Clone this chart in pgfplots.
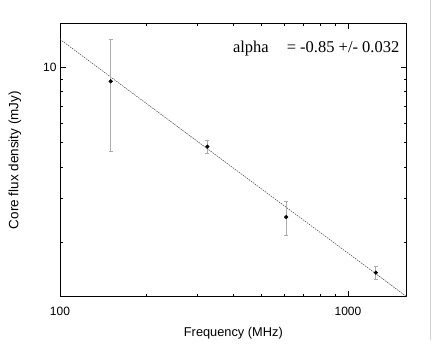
\documentclass[border=0pt]{standalone}
\usepackage{fontspec}
\setmainfont{Liberation Sans}
\newfontfamily\timesfont{Liberation Serif}
\usepackage{pgfplots}
\pgfplotsset{compat=1.18}

% measured fluxes (MHz, mJy, error)
\pgfplotstableread{
nu   S     err
150  8.8   4.2
325  4.82  0.30
610  2.52  0.40
1250 1.51  0.09
}\coreflux

\begin{document}
\begin{tikzpicture}
\useasboundingbox (-60pt,-57.3pt) rectangle (376pt,296.7pt);
\begin{axis}[
    scale only axis,
    width=346.7pt, height=273.3pt,
    xmode=log, ymode=log,
    xmin=100, xmax=1600,
    ymin=1.21, ymax=15,
    xtick={100,1000}, xticklabels={100,1000},
    minor xtick={200,300,400,500,600,700,800,900},
    ytick={10}, yticklabels={10},
    minor ytick={2,3,4,5,6,7,8,9},
    major tick length=6pt, minor tick length=3pt,
    tick style={black, line width=0.5pt},
    axis line style={line width=0.9pt},
    tick label style={font=\fontsize{12}{13}\selectfont},
    x tick label style={yshift=-7pt},
    /pgf/number format/assume math mode=true,
    xlabel={Frequency (MHz)},
    ylabel={Core flux density (mJy)},
    x label style={at={(axis description cs:0.5,-0.134)}, anchor=center, font=\fontsize{12.8}{14}\selectfont},
    y label style={at={(axis description cs:-0.13,0.5)}, anchor=center, font=\fontsize{13.5}{15}\selectfont},
    clip=true,
]
\addplot[black!75, line width=0.5pt, dash pattern=on 1.5pt off 1pt] coordinates {(100,12.95) (1600,1.21)};
\addplot[only marks, mark=*, mark size=1.9pt, black,
    error bars/.cd, y dir=both, y explicit,
    error bar style={gray!65, line width=0.9pt},
    error mark options={gray!65, line width=0.7pt, mark size=2pt, rotate=90}]
    table[x=nu, y=S, y error=err] {\coreflux};
\node[anchor=base east, font=\timesfont\fontsize{16.5}{18}\selectfont]
    at (rel axis cs:0.989,0.892) {alpha\hspace{18pt}= -0.85 +/- 0.032};
\end{axis}
\draw[gray!35, line width=0.6pt] (370pt,296.7pt) -- (370pt,-43.3pt);
\end{tikzpicture}
\end{document}
